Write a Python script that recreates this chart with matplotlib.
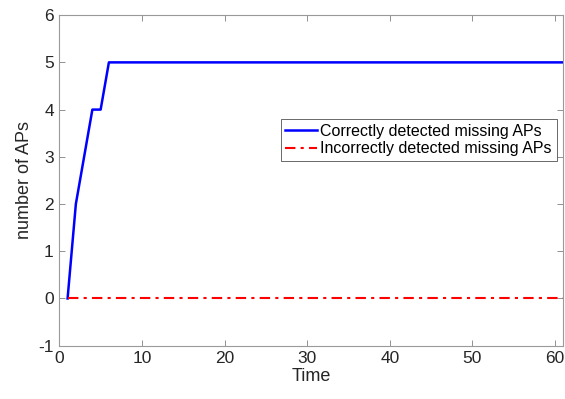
import numpy as np
import matplotlib
matplotlib.use("Agg")
from matplotlib import pyplot as plt

time = np.arange(1, 62)
correct_start = [0, 2, 3, 4, 4]
correct = np.array(correct_start + [5] * (len(time) - len(correct_start)))
incorrect = np.zeros(len(time))

plt.rcParams['font.family'] = ['Liberation Sans', 'DejaVu Sans']
plt.rcParams['axes.unicode_minus'] = False

fig = plt.figure(figsize=(5.65, 3.99), dpi=100, facecolor="w")
ax = fig.add_axes([0.105, 0.1336, 0.892, 0.8284])
ax.plot(time, correct, color='#0000ff', lw=1.8, label="Correctly detected missing APs")
ax.plot(time, incorrect, color='#ff0000', lw=1.5, ls=(0, (5, 2.5, 1.5, 2.5)), label="Incorrectly detected missing APs")

ax.set_xlim(0, 61)
ax.set_ylim(-1, 6)
ax.set_xticks(np.arange(0, 61, 10))
ax.set_yticks(np.arange(-1, 7, 1))
ax.tick_params(direction='in', top=True, right=True, length=4, width=0.6,
               color='#808080', labelsize=12.5, labelcolor='#262626', pad=4)
for s in ax.spines.values():
    s.set_color('#9a9a9a')
    s.set_linewidth(0.8)
ax.set_xlabel("Time", fontsize=13, color='#262626', labelpad=1)
ax.set_ylabel("number of APs", fontsize=13, color='#262626', labelpad=4)

leg = ax.legend(loc='upper right', bbox_to_anchor=(0.987, 0.6855), fontsize=11.5,
                frameon=True, fancybox=False, edgecolor='#262626', handlelength=2.0,
                handletextpad=0.2, borderpad=0.3, labelspacing=0.15, borderaxespad=0)
leg.get_frame().set_linewidth(0.6)

plt.savefig("out.png", dpi=100)
